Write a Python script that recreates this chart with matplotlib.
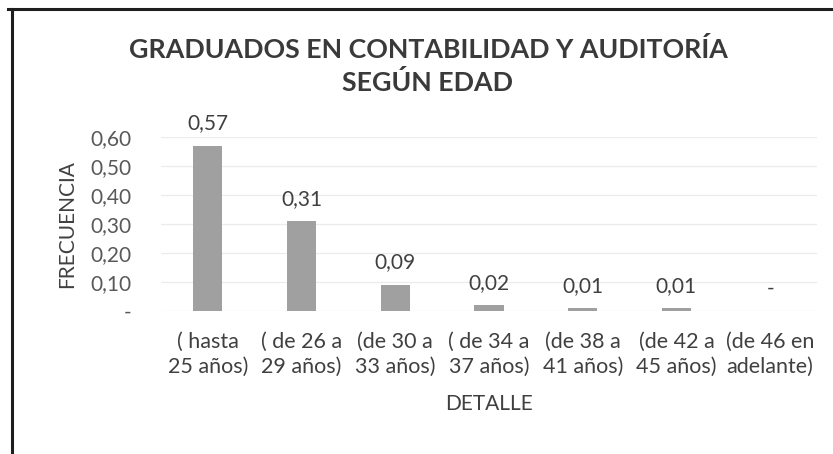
import matplotlib
matplotlib.use("Agg")
import matplotlib.pyplot as plt
from matplotlib.lines import Line2D
from matplotlib.ticker import FuncFormatter, MultipleLocator

# datos
categorias = ["( hasta\n25 años)", "( de 26 a\n29 años)", "(de 30 a\n33 años)",
              "( de 34 a\n37 años)", "(de 38 a\n41 años)", "(de 42 a\n45 años)",
              "(de 46 en\nadelante)"]
frecuencia = [0.57, 0.31, 0.09, 0.02, 0.01, 0.01, 0.0]

titulo = "GRADUADOS EN CONTABILIDAD Y AUDITORÍA\nSEGÚN EDAD"


def fmt_contable(v):
    # formato contable de Excel: cero se muestra como guion
    if abs(v) < 1e-9:
        return "-"
    return f"{v:.2f}".replace(".", ",")


plt.rcParams["font.family"] = ["Lato", "DejaVu Sans"]

W, H = 833, 454
fig = plt.figure(figsize=(W / 100, H / 100), dpi=100)
fig.patch.set_facecolor("white")

ax = fig.add_axes([161 / W, 1 - 311 / H, (817 - 161) / W, (311 - 137) / H])

x = range(len(categorias))
bars = ax.bar(x, frecuencia, width=0.31, color="#a0a0a0", zorder=3)

for xi, v in zip(x, frecuencia):
    ax.annotate(fmt_contable(v), (xi, v), xytext=(0, 9), textcoords="offset points",
                ha="center", va="bottom", fontsize=15, color="#404040")

ax.set_xlim(-0.5, len(categorias) - 0.5)
ax.set_ylim(0, 0.6)
ax.yaxis.set_major_locator(MultipleLocator(0.1))
ax.yaxis.set_major_formatter(FuncFormatter(lambda v, p: fmt_contable(v)))
ax.grid(axis="y", color="#ebebeb", lw=0.9, zorder=0)
ax.set_xticks(list(x))
ax.set_xticklabels(categorias, fontsize=15.5, color="#404040", linespacing=1.32)
ax.tick_params(axis="both", length=0)
ax.tick_params(axis="x", pad=15)
ax.tick_params(axis="y", labelsize=15, labelcolor="#595959", pad=21)
for s in ax.spines.values():
    s.set_visible(False)

ax.set_xlabel("DETALLE", fontsize=15, color="#404040", labelpad=12)
ax.set_ylabel("FRECUENCIA", fontsize=15, color="#404040", labelpad=10)

fig.text(428 / W, 1 - 66 / H, titulo, ha="center", va="center", fontsize=19.3,
         fontweight="bold", color="#3a3a3a", linespacing=1.37)

# marco del recuadro escaneado
fig.add_artist(Line2D([8 / W, 1], [1 - 9 / H, 1 - 9 / H], color="#1e1e1e", lw=2.2))
fig.add_artist(Line2D([12 / W, 12 / W], [0, 1 - 9 / H], color="#1e1e1e", lw=2.2))

fig.savefig("out.png", dpi=100)
